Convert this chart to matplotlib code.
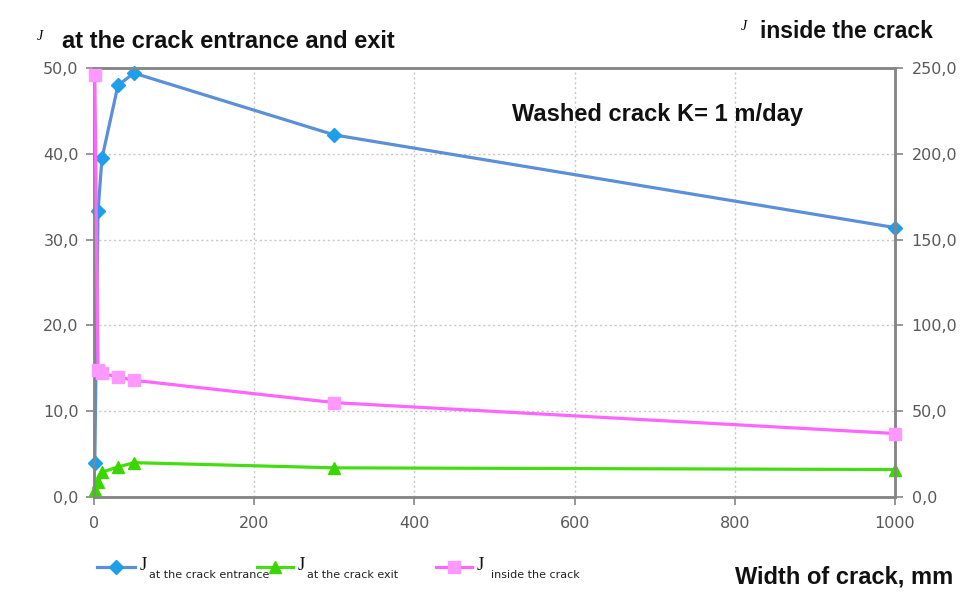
import matplotlib
matplotlib.use("Agg")
import matplotlib.pyplot as plt
from matplotlib.ticker import FuncFormatter, MultipleLocator
from matplotlib.lines import Line2D

# Crack width, mm
width = [1, 5, 10, 30, 50, 300, 1000]
# Gradient J at the crack entrance (left axis)
j_entrance = [4.0, 33.3, 39.5, 48.0, 49.4, 42.2, 31.4]
# Gradient J at the crack exit (left axis)
j_exit = [0.8, 1.8, 2.9, 3.5, 4.0, 3.4, 3.2]
# Gradient J inside the crack (right axis)
j_inside = [246.0, 74.0, 72.0, 70.0, 68.0, 55.0, 37.0]

x_ticks = [0, 200, 400, 600, 800, 1000]

W, H = 962, 593
fig = plt.figure(figsize=(W / 100, H / 100), dpi=100)

def fx(px):
    return px / W

def fy(py):
    return 1 - py / H

ax = fig.add_axes([fx(94), fy(497), fx(895) - fx(94), fy(68) - fy(497)])
ax2 = ax.twinx()

grey = "#868686"
tick_col = "#595959"
blue_line = "#5b8fd8"
blue_mark = "#1f9fea"
green_line = "#44dd11"
green_mark = "#3bd600"
pink_line = "#ff66ff"
pink_mark = "#ff99ff"

ax.plot(width, j_entrance, color=blue_line, lw=2.3, marker="D", ms=7,
        mfc=blue_mark, mec=blue_mark, zorder=3, clip_on=False)
ax.plot(width, j_exit, color=green_line, lw=2.3, marker="^", ms=9,
        mfc=green_mark, mec=green_mark, zorder=3, clip_on=False)
ax2.plot(width, j_inside, color=pink_line, lw=2.3, marker="s", ms=9,
         mfc=pink_mark, mec=pink_mark, zorder=3, clip_on=False)

comma = FuncFormatter(lambda v, p: f"{v:.1f}".replace(".", ","))

ax.set_xlim(0, 1000)
ax.set_ylim(0, 50)
ax2.set_ylim(0, 250)
ax.set_xticks(x_ticks)
ax.yaxis.set_major_locator(MultipleLocator(10))
ax2.yaxis.set_major_locator(MultipleLocator(50))
ax.yaxis.set_major_formatter(comma)
ax2.yaxis.set_major_formatter(comma)

ax.grid(True, color="#c8c8c8", ls=(0, (1.5, 2)), lw=1)
ax.set_axisbelow(True)

for a in (ax, ax2):
    for s in a.spines.values():
        s.set_color(grey)
        s.set_linewidth(1.8)
    a.tick_params(colors=grey, labelcolor=tick_col, labelsize=11.5,
                  length=6, width=1.2, direction="out")
ax.tick_params(axis="x", pad=8)
ax.tick_params(axis="y", pad=5)
ax2.tick_params(axis="y", pad=6)

bold = dict(family="Liberation Sans", fontweight="bold", color="#111111")

fig.text(fx(512), fy(115), "Washed crack K= 1 m/day", fontsize=17,
         va="center", ha="left", **bold)
fig.text(fx(62), fy(41), "at the crack entrance and exit", fontsize=17,
         va="center", ha="left", **bold)
fig.text(fx(37), fy(36), "J", fontsize=10, family="Liberation Serif",
         style="italic", va="center", ha="left")
fig.text(fx(760), fy(31), "inside the crack", fontsize=16.5,
         va="center", ha="left", **bold)
fig.text(fx(741), fy(26), "J", fontsize=10, family="Liberation Serif",
         style="italic", va="center", ha="left")
fig.text(fx(735), fy(577), "Width of crack, mm", fontsize=17,
         va="center", ha="left", **bold)

# Legend drawn below the plot: a sample line, a large J and a small subscript
legend_items = [
    (blue_line, blue_mark, "D", 7, 97, 135, 140, 149, "at the crack entrance"),
    (green_line, green_mark, "^", 9, 257, 293, 298, 307, "at the crack exit"),
    (pink_line, pink_mark, "s", 9, 436, 472, 477, 491, "inside the crack"),
]
ly = 567
for lc, mc, mk, ms, x0, x1, xj, xs, sub in legend_items:
    fig.add_artist(Line2D([fx(x0), fx(x1)], [fy(ly), fy(ly)], color=lc, lw=2.3,
                          transform=fig.transFigure))
    fig.add_artist(Line2D([fx((x0 + x1) / 2)], [fy(ly)], marker=mk, ms=ms,
                          mfc=mc, mec=mc, ls="none", transform=fig.transFigure))
    fig.text(fx(xj), fy(ly - 2), "J", fontsize=13.5, family="Liberation Serif",
             va="center", ha="left", color="#111111")
    fig.text(fx(xs), fy(ly + 8), sub, fontsize=8, family="DejaVu Sans",
             va="center", ha="left", color="#222222")

fig.savefig("out.png", dpi=100)
